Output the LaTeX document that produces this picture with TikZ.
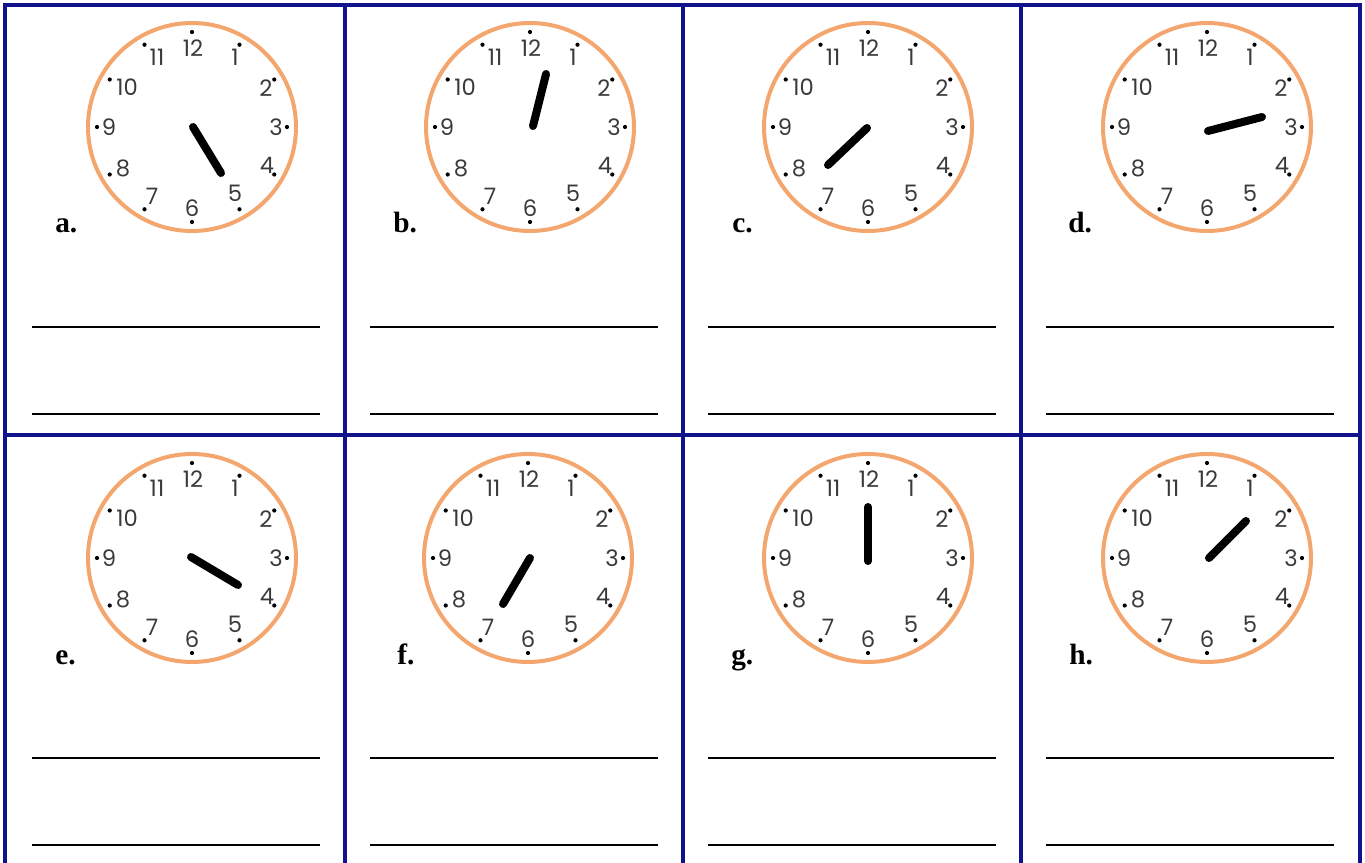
\documentclass[tikz,border=0pt]{standalone}
\usepackage{fontspec}
\setmainfont{Liberation Serif}
\newfontfamily\digfont{Poppins}
\definecolor{navy}{HTML}{12128C}
\definecolor{face}{HTML}{F4A66F}
\definecolor{digitc}{HTML}{3A3A3A}
\tikzset{
  cellline/.style={draw=navy, line width=2.8pt},
  rim/.style={draw=face, line width=3pt},
  hand/.style={draw=black, line width=6pt, line cap=round},
  digit/.style={font=\digfont\fontsize{17}{18}\selectfont, text=digitc, inner sep=0pt},
  lbl/.style={font=\bfseries\fontsize{22}{24}\selectfont, anchor=base west, inner sep=0pt},
  rule/.style={draw=black, line width=1.3pt},
}
\newcommand\clockat[3]{%
  \draw[rim] (#2,#3) circle[radius=104];
  \foreach \k in {0,...,11}
    \fill[black] ({#2+95*sin(30*\k)},{#3-95*cos(30*\k)}) circle[radius=2.1];
  \foreach \t/\dx/\dy in {12/1/-79, 1/43/-70, 2/74/-39, 3/84/0, 4/75/38, 5/43/66,
                          6/0/81, 7/-40/69, 8/-69/41, 9/-83/0, 10/-65/-40, 11/-35/-70}
    \node[digit] (#1-d\t) at ({#2+\dx},{#3+\dy}) {\t};
}
\begin{document}
\begin{tikzpicture}[x=0.75pt, y=-0.75pt]
\useasboundingbox (0,0) rectangle (1365,863);
\clip (0,0) rectangle (1365,863);
% table
\draw[cellline] (5,5) rectangle (1360,900);
\foreach \x in {345,683,1021} \draw[cellline] (\x,5) -- (\x,900);
\draw[cellline] (5,435) -- (1360,435);
% clocks
\clockat{a}{192}{127}
\clockat{b}{530}{127}
\clockat{c}{868}{127}
\clockat{d}{1207}{127}
\clockat{e}{192}{558}
\clockat{f}{528}{558}
\clockat{g}{868}{558}
\clockat{h}{1207}{558}
% hands
\draw[hand] (193,127) -- (221,173);
\draw[hand] (533,126) -- (546,74);
\draw[hand] (867,128) -- (828,165);
\draw[hand] (1208,131) -- (1262,117);
\draw[hand] (191,557) -- (238,585);
\draw[hand] (530,558) -- (503,604);
\draw[hand] (868,507) -- (868,561);
\draw[hand] (1209,558) -- (1246,521);
% labels
\node[lbl] (la) at (55,233) {a.};
\node[lbl] (lb) at (393,233) {b.};
\node[lbl] (lc) at (732,233) {c.};
\node[lbl] (ld) at (1068,233) {d.};
\node[lbl] (le) at (55,664) {e.};
\node[lbl] (lf) at (397,664) {f.};
\node[lbl] (lg) at (731,664) {g.};
\node[lbl] (lh) at (1069,664) {h.};
% answer lines
\foreach \i in {0,1,2,3}
  \foreach \y in {327,414,758,845}
    \draw[rule] ({32+338*\i},\y) -- ({320+338*\i},\y);
\end{tikzpicture}
\end{document}
